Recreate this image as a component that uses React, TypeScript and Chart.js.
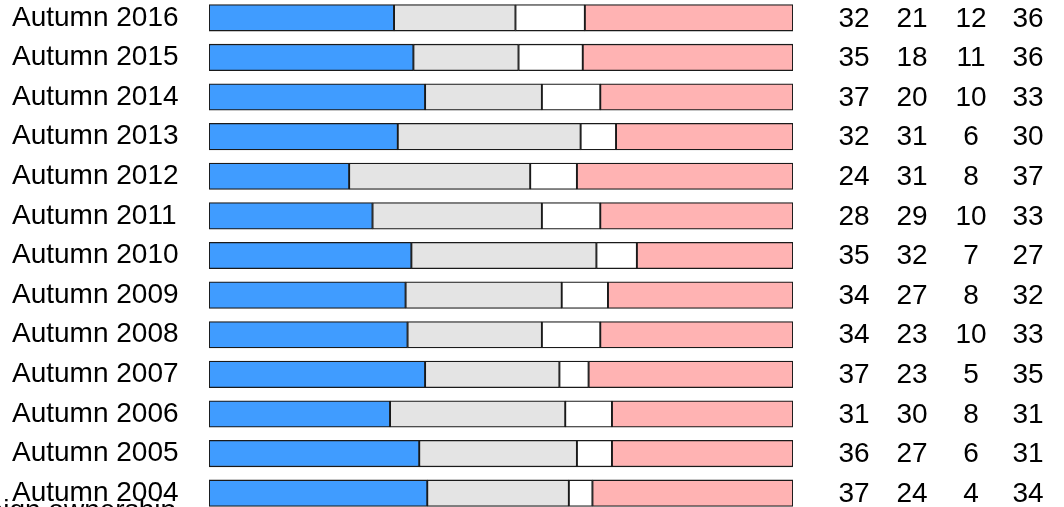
import React, { useEffect, useRef } from 'react';
import { Chart, registerables } from 'chart.js';

Chart.register(...registerables);

const categories = [
  'Autumn 2016', 'Autumn 2015', 'Autumn 2014', 'Autumn 2013', 'Autumn 2012',
  'Autumn 2011', 'Autumn 2010', 'Autumn 2009', 'Autumn 2008', 'Autumn 2007',
  'Autumn 2006', 'Autumn 2005', 'Autumn 2004',
];
const seriesBlue = [32, 35, 37, 32, 24, 28, 35, 34, 34, 37, 31, 36, 37];
const seriesGray = [21, 18, 20, 31, 31, 29, 32, 27, 23, 23, 30, 27, 24];
const seriesWhite = [12, 11, 10, 6, 8, 10, 7, 8, 10, 5, 8, 6, 4];
const seriesPink = [36, 36, 33, 30, 37, 33, 27, 32, 33, 35, 31, 31, 34];
const footerText = 'Foreign ownership';

const FONT = '"Liberation Sans", Arial, Helvetica, sans-serif';

export default function App() {
  const ref = useRef<HTMLCanvasElement | null>(null);

  useEffect(() => {
    const canvas = ref.current;
    if (!canvas) return;
    const all = [seriesBlue, seriesGray, seriesWhite, seriesPink];
    const totals = categories.map((_, i) => all.reduce((s, arr) => s + arr[i], 0));
    const norm = (arr: number[]) => arr.map((v, i) => (v / totals[i]) * 100);

    const numbersPlugin = {
      id: 'rowNumbers',
      afterDraw(chart: any) {
        const ctx = chart.ctx;
        const y = chart.scales.y;
        const cols = [854, 912, 971, 1028];
        ctx.save();
        ctx.fillStyle = '#000';
        ctx.font = `28px ${FONT}`;
        ctx.textAlign = 'center';
        ctx.textBaseline = 'middle';
        categories.forEach((_, i) => {
          const py = y.getPixelForValue(i);
          all.forEach((arr, k) => {
            ctx.fillText(String(arr[i]), cols[k], py + 1);
          });
        });
        ctx.textAlign = 'right';
        ctx.textBaseline = 'alphabetic';
        ctx.fillText(footerText, 176, 521);
        ctx.restore();
      },
    };

    const ds = (label: string, data: number[], color: string) => ({
      label,
      data: norm(data),
      backgroundColor: color,
      borderColor: '#1a1a1a',
      borderWidth: 1.3,
      borderSkipped: false,
      barThickness: 26.5,
    });

    const chart = new Chart(canvas, {
      type: 'bar',
      data: {
        labels: categories,
        datasets: [
          ds('A', seriesBlue, '#409CFF'),
          ds('B', seriesGray, '#E4E4E4'),
          ds('C', seriesWhite, '#FFFFFF'),
          ds('D', seriesPink, '#FFB3B3'),
        ],
      },
      options: {
        indexAxis: 'y',
        animation: false,
        responsive: false,
        maintainAspectRatio: false,
        layout: { padding: { left: 12, right: 271, top: 0, bottom: 15 } },
        plugins: { legend: { display: false }, tooltip: { enabled: false }, title: { display: false } },
        scales: {
          x: { stacked: true, min: 0, max: 100, display: false },
          y: {
            stacked: true,
            grid: { display: false, drawTicks: false },
            border: { display: false },
            afterFit: (scale: any) => {
              scale.width = 197;
              scale.paddingTop = 0;
              scale.paddingBottom = 0;
            },
            ticks: {
              crossAlign: 'far',
              color: '#000',
              font: { family: FONT, size: 28 },
              padding: 0,
            },
          },
        },
      },
      plugins: [numbersPlugin],
    });
    return () => chart.destroy();
  }, []);

  return (
    <div style={{ position: 'absolute', left: 0, top: -2, width: 1064, height: 530 }}>
      <canvas ref={ref} width={1064} height={530} style={{ width: 1064, height: 530, display: 'block' }} />
    </div>
  );
}
